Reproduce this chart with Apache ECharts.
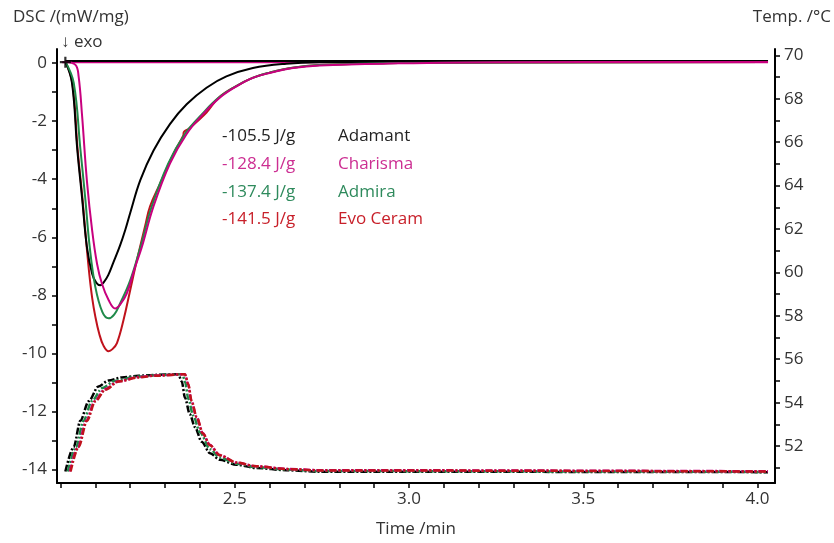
<!DOCTYPE html>
<html>
<head>
<meta charset="utf-8">
<script src="https://cdn.jsdelivr.net/npm/echarts@6/dist/echarts.min.js"></script>
<style>
html,body{margin:0;padding:0;background:#fff;}
#chart{width:834px;height:543px;}
</style>
</head>
<body>
<div id="chart"></div>
<script>
// ---- Data (time in min, DSC in mW/mg, temperature in °C) ----
const sampleNames = ['Adamant', 'Charisma', 'Admira', 'Evo Ceram'];
const enthalpyLabels = ['-105.5 J/g', '-128.4 J/g', '-137.4 J/g', '-141.5 J/g'];
const seriesColors = ['#000000', '#c8007e', '#1f8a4a', '#c0121c'];
const textColors = ['#222222', '#cc2e92', '#2e8a5c', '#c8202a'];

const dscAdamant = [[2.014,0.05],[2.033,-0.68],[2.048,-2.95],[2.062,-4.65],[2.076,-6.35],[2.091,-7.26],[2.103,-7.57],[2.114,-7.65],[2.124,-7.55],[2.137,-7.30],[2.151,-6.89],[2.171,-6.28],[2.186,-5.74],[2.2,-5.16],[2.229,-4.03],[2.267,-3.01],[2.314,-2.10],[2.362,-1.42],[2.419,-0.85],[2.476,-0.46],[2.552,-0.17],[2.648,-0.02],[2.743,0.03],[2.971,0.04],[4.03,0.04]];
const dscCharisma = [[2.014,0.05],[2.043,-0.06],[2.052,-0.46],[2.062,-1.82],[2.076,-4.08],[2.091,-5.78],[2.105,-6.92],[2.119,-7.60],[2.138,-8.16],[2.157,-8.45],[2.171,-8.32],[2.19,-7.94],[2.214,-7.03],[2.233,-6.35],[2.267,-4.93],[2.314,-3.46],[2.362,-2.44],[2.409,-1.76],[2.457,-1.19],[2.505,-0.80],[2.552,-0.51],[2.6,-0.34],[2.667,-0.17],[2.743,-0.08],[2.971,-0.01],[3.257,0.03],[4.03,0.04]];
const dscAdmira = [[2.014,0.05],[2.038,-0.68],[2.057,-2.95],[2.071,-4.65],[2.084,-6.35],[2.1,-7.71],[2.12,-8.57],[2.138,-8.79],[2.154,-8.66],[2.171,-8.28],[2.2,-7.48],[2.229,-6.35],[2.262,-4.93],[2.309,-3.46],[2.357,-2.44],[2.406,-1.76],[2.454,-1.19],[2.503,-0.80],[2.551,-0.51],[2.6,-0.33],[2.666,-0.16],[2.743,-0.07],[2.971,0.0],[4.03,0.04]];
const dscEvoCeram = [[2.014,0.05],[2.034,-0.68],[2.049,-2.95],[2.063,-4.65],[2.074,-6.18],[2.083,-7.30],[2.091,-8.09],[2.1,-8.73],[2.111,-9.31],[2.123,-9.72],[2.138,-9.92],[2.149,-9.85],[2.162,-9.64],[2.181,-8.84],[2.2,-7.82],[2.219,-6.80],[2.243,-5.60],[2.257,-4.93],[2.286,-4.14],[2.324,-3.12],[2.352,-2.50],[2.354,-2.37],[2.367,-2.27],[2.419,-1.70],[2.454,-1.19],[2.503,-0.80],[2.551,-0.51],[2.6,-0.33],[2.666,-0.16],[2.743,-0.07],[2.971,0.0],[4.03,0.04]];
const dscBaselineBlack = [[2.014,0.07],[4.03,0.07]];
const dscBaselineMagenta = [[2.005,0.03],[4.03,0.03]];
const startMarker = [[2.014,0.03]];

const tempAdamant = [[2.014,50.83],[2.038,51.96],[2.057,53.17],[2.081,54.07],[2.109,54.75],[2.138,55.02],[2.176,55.16],[2.224,55.24],[2.271,55.28],[2.338,55.31],[2.348,54.98],[2.357,54.24],[2.371,53.47],[2.386,52.87],[2.405,52.20],[2.429,51.67],[2.457,51.37],[2.505,51.14],[2.562,50.99],[2.648,50.89],[2.743,50.82],[4.03,50.80]];
const tempCharisma = [[2.027,50.83],[2.05,51.96],[2.074,53.17],[2.098,54.07],[2.127,54.62],[2.165,54.98],[2.224,55.18],[2.271,55.25],[2.357,55.31],[2.366,54.87],[2.375,54.11],[2.39,53.35],[2.408,52.60],[2.428,52.06],[2.456,51.59],[2.505,51.24],[2.562,51.07],[2.648,50.95],[2.743,50.89],[4.03,50.84]];
const tempAdmira = [[2.021,50.83],[2.045,51.96],[2.066,53.17],[2.09,54.07],[2.12,54.67],[2.155,55.0],[2.22,55.20],[2.271,55.26],[2.35,55.31],[2.358,54.91],[2.367,54.16],[2.381,53.40],[2.4,52.64],[2.429,51.86],[2.457,51.47],[2.505,51.19],[2.562,51.03],[2.648,50.92],[2.743,50.85],[4.03,50.81]];
const tempEvoCeram = [[2.029,50.83],[2.052,51.96],[2.076,53.17],[2.1,54.07],[2.129,54.60],[2.167,54.98],[2.224,55.16],[2.271,55.24],[2.357,55.31],[2.367,54.83],[2.376,54.08],[2.391,53.33],[2.409,52.57],[2.429,52.04],[2.457,51.58],[2.505,51.24],[2.562,51.07],[2.648,50.94],[2.743,50.88],[4.03,50.83]];

const xTickValues = [2.0,2.1,2.2,2.3,2.4,2.5,2.6,2.7,2.8,2.9,3.0,3.1,3.2,3.3,3.4,3.5,3.6,3.7,3.8,3.9,4.0];
const xLabelValues = [2.5,3.0,3.5,4.0];
const dscTickValues = [0,-1,-2,-3,-4,-5,-6,-7,-8,-9,-10,-11,-12,-13,-14];
const dscLabelValues = [0,-2,-4,-6,-8,-10,-12,-14];
const tempTickValues = [51,52,53,54,55,56,57,58,59,60,61,62,63,64,65,66,67,68,69,70];
const tempLabelValues = [52,54,56,58,60,62,64,66,68,70];

// ---- Chart ----
const FONT = '"Open Sans", "Noto Sans", sans-serif';
const FS = 17;
const chart = echarts.init(document.getElementById('chart'), null, {renderer:'canvas'});

function dscLine(data, color, z) {
  return {type:'line', xAxisIndex:0, yAxisIndex:0, data:data, showSymbol:false, symbol:'none',
    smooth:0.4, z:z, animation:false,
    lineStyle:{color:color, width:2}};
}
function tempLine(data, color, z) {
  return {type:'line', xAxisIndex:0, yAxisIndex:1, data:data, showSymbol:false, symbol:'none',
    smooth:0.3, smoothMonotone:'x', z:z, animation:false,
    lineStyle:{color:color, width:2.5, type:[7,2,2,2]}};
}

const legendGraphics = [];
const rowY = [140, 168, 196, 223];
for (let i = 0; i < sampleNames.length; i++) {
  legendGraphics.push({type:'text', left:222, top:rowY[i]-12, style:{text:enthalpyLabels[i], fill:textColors[i], font:FS + 'px ' + FONT}});
  legendGraphics.push({type:'text', left:338, top:rowY[i]-12, style:{text:sampleNames[i], fill:textColors[i], font:FS + 'px ' + FONT}});
}

const option = {
  backgroundColor:'#ffffff',
  animation:false,
  grid:{left:57, right:59, top:49, bottom:53, containLabel:false},
  xAxis:{
    type:'value', min:1.99, max:4.05,
    axisLine:{show:true, onZero:false, lineStyle:{color:'#000', width:2}},
    axisTick:{show:true, customValues:xTickValues, length:5, lineStyle:{color:'#000', width:1.5}},
    axisLabel:{customValues:xLabelValues, formatter:v => v.toFixed(1), color:'#333', fontSize:FS, fontFamily:FONT, margin:8},
    splitLine:{show:false},
    name:'Time /min', nameLocation:'middle', nameGap:38,
    nameTextStyle:{color:'#333', fontSize:FS, fontFamily:FONT}
  },
  yAxis:[
    {
      type:'value', min:-14.46, max:0.485, position:'left',
      axisLine:{show:true, onZero:false, lineStyle:{color:'#000', width:2}},
      axisTick:{show:true, customValues:dscTickValues, length:5, lineStyle:{color:'#000', width:1.5}},
      axisLabel:{customValues:dscLabelValues, color:'#333', fontSize:FS, fontFamily:FONT, margin:10},
      splitLine:{show:false}
    },
    {
      type:'value', min:50.30, max:70.29, position:'right',
      axisLine:{show:true, onZero:false, lineStyle:{color:'#000', width:2}},
      axisTick:{show:true, customValues:tempTickValues, length:5, lineStyle:{color:'#000', width:1.5}},
      axisLabel:{customValues:tempLabelValues, color:'#333', fontSize:FS, fontFamily:FONT, margin:9},
      splitLine:{show:false}
    }
  ],
  graphic:[
    {type:'text', left:13, top:9, style:{text:'DSC /(mW/mg)', fill:'#333', font:FS + 'px ' + FONT}},
    {type:'text', right:3, top:9, style:{text:'Temp. /°C', fill:'#333', font:FS + 'px ' + FONT}},
    {type:'text', left:61, top:34, style:{text:'↓ exo', fill:'#333', font:FS + 'px ' + FONT}}
  ].concat(legendGraphics),
  series:[
    dscLine(dscBaselineMagenta, seriesColors[1], 2),
    dscLine(dscBaselineBlack, seriesColors[0], 3),
    dscLine(dscEvoCeram, seriesColors[3], 4),
    dscLine(dscAdamant, seriesColors[0], 5),
    dscLine(dscAdmira, seriesColors[2], 6),
    dscLine(dscCharisma, seriesColors[1], 7),
    tempLine(tempAdamant, seriesColors[0], 4),
    tempLine(tempAdmira, seriesColors[2], 5),
    tempLine(tempCharisma, seriesColors[1], 6),
    tempLine(tempEvoCeram, seriesColors[3], 7),
    {type:'scatter', xAxisIndex:0, yAxisIndex:0, data:startMarker, z:10, animation:false,
      symbol:'path://M4,0h2v4h4v2h-4v4h-2v-4h-4v-2h4z', symbolSize:11,
      itemStyle:{color:'#000'}}
  ]
};
chart.setOption(option);
</script>
</body>
</html>
